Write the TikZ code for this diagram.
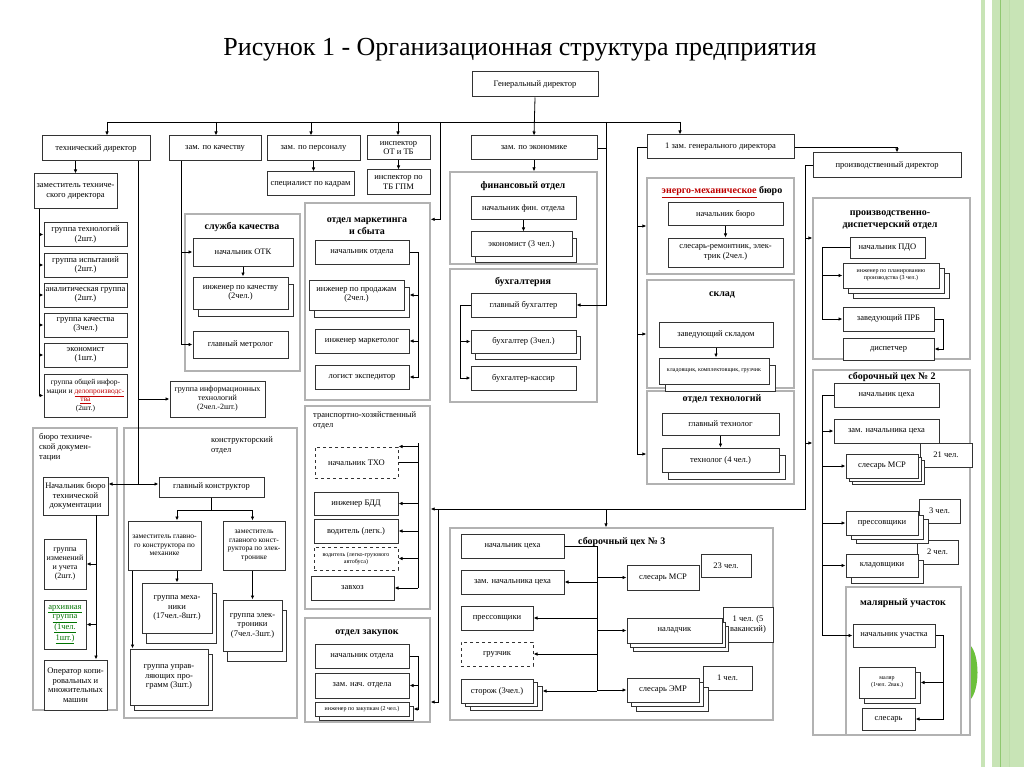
\documentclass[tikz,border=0pt]{standalone}
\usepackage{fontspec}
\setmainfont{Liberation Serif}
\usetikzlibrary{arrows.meta,shadows}

\definecolor{stripe}{HTML}{C8E4B6}
\definecolor{stripedk}{HTML}{8FC870}
\definecolor{disc}{HTML}{6CC03C}
\newcommand{\redul}[1]{\textcolor{red!75!black}{\underline{#1}}}
\newcommand{\grnul}[1]{\textcolor{green!45!black}{\underline{#1}}}

\begin{document}
\begin{tikzpicture}[x=1pt, y=-1pt,
    box/.style={draw=black!80, line width=1pt, fill=white, align=center, inner sep=1pt,
      font=\fontsize{8.5}{9.5}\selectfont},
    dbox/.style={box, dashed},
    stack/.style 2 args={box, copy shadow={shadow xshift=#1pt, shadow yshift=-#2pt}},
    stack2/.style 2 args={box, double copy shadow={shadow xshift=#1pt, shadow yshift=-#2pt}},
    grp/.style={draw=black!30, line width=1.3pt},
    gtitle/.style={font=\bfseries\fontsize{10}{11.5}\selectfont, align=center, inner sep=0pt},
    ltitle/.style={font=\fontsize{8.5}{10}\selectfont, align=left, anchor=north west, inner sep=0pt},
    sz/.style 2 args={minimum width=#1, minimum height=#2},
    arr/.style={-{Latex[length=4pt,width=3.5pt]}, line width=0.8pt},
    ln/.style={line width=0.8pt}]

  \fill[white] (0,0) rectangle (1024,767);
  \useasboundingbox (0,0) rectangle (1024,767);

  % slide border on the right
  \fill[stripe] (981,0) rectangle (985,767);
  \fill[stripe] (992,0) rectangle (1024,767);
  \draw[stripedk, line width=1pt] (1000.5,0) -- (1000.5,767);
  \draw[stripedk!60, line width=0.6pt] (1009,0) -- (1009,767);
  \fill[disc] (970,645) .. controls (980,655) and (980,690) .. (970,700) -- cycle;

  \node[font=\fontsize{26}{30}\selectfont] (title) at (520,50)
    {Рисунок 1 - Организационная структура предприятия};

  % departments
  \node[grp, sz={84}{282}] (btd) at (75,569) {};
  \node[grp, sz={173}{290}] (kod) at (210.5,573) {};
  \node[grp, sz={115}{157}] (skg) at (242.5,292.5) {};
  \node[grp, sz={125}{197}] (mkg) at (367.5,301.5) {};
  \node[grp, sz={125}{203}] (txo) at (367.5,507.5) {};
  \node[grp, sz={125}{104}] (zak) at (367.5,670) {};
  \node[grp, sz={147}{92}] (fin) at (523.5,218) {};
  \node[grp, sz={147}{133}] (bux) at (523.5,335.5) {};
  \node[grp, sz={323}{192}] (c3) at (611.5,624) {};
  \node[grp, sz={147}{96}] (emb) at (720.5,226) {};
  \node[grp, sz={147}{108}] (sk) at (720.5,334) {};
  \node[grp, sz={147}{93}] (ot) at (720.5,437.5) {};
  \node[grp, sz={157}{161}] (pdo) at (891.5,278.5) {};
  \node[grp, sz={157}{365}] (c2) at (891.5,552.5) {};
  \node[grp, sz={115}{148}] (mu) at (903.5,661) {};

  \node[gtitle] (skgT) at (242,227) {служба качества};
  \node[gtitle] (mkgT) at (367,226) {отдел маркетинга\\и сбыта};
  \node[gtitle] (zakT) at (367,633) {отдел закупок};
  \node[gtitle] (finT) at (523,186) {финансовый отдел};
  \node[gtitle] (buxT) at (523,282) {бухгалтерия};
  \node[gtitle, anchor=west] (c3T) at (578,542) {сборочный цех № 3};
  \node[gtitle] (embT) at (722,192) {\redul{энерго-механическое} бюро};
  \node[gtitle] (skT) at (722,295) {склад};
  \node[gtitle] (otT) at (722,399) {отдел технологий};
  \node[gtitle] (pdoT) at (890,220) {производственно-\\диспетчерский отдел};
  \node[gtitle] (c2T) at (892,377) {сборочный цех № 2};
  \node[gtitle] (muT) at (903,603) {малярный участок};
  \node[ltitle] (btdT) at (39,433) {бюро техниче-\\ской докумен-\\тации};
  \node[ltitle] (kodT) at (211,436) {конструкторский\\отдел};
  \node[ltitle] (txoT) at (313,411) {транспортно-хозяйственный\\отдел};

  % management
  \node[box, sz={126}{25}] (gd) at (535,84.5) {Генеральный директор};
  \node[box, sz={108}{25}] (td) at (96,148.5) {технический директор};
  \node[box, sz={92}{25}] (zk) at (215,148.5) {зам. по качеству};
  \node[box, sz={93}{25}] (zp) at (313.5,148.5) {зам. по персоналу};
  \node[box, sz={63}{24}] (iot) at (398.5,148) {инспектор\\ОТ и ТБ};
  \node[box, sz={126}{24}] (ze) at (534,148) {зам. по экономике};
  \node[box, sz={147}{24}] (z1) at (720.5,147) {1 зам. генерального директора};
  \node[box, sz={148}{25}] (pd) at (887,165.5) {производственный директор};
  \node[box, sz={87}{24}] (spk) at (310.5,184) {специалист по кадрам};
  \node[box, sz={63}{25}] (itb) at (398.5,182.5) {инспектор по\\ТБ ГПМ};

  % technical director
  \node[box, sz={83}{35}] (ztd) at (75.5,191.5) {заместитель техниче-\\ского директора};
  \node[box, sz={83}{23}] (gt) at (85.5,234.5) {группа технологий\\(2шт.)};
  \node[box, sz={83}{24}] (gi) at (85.5,265) {группа испытаний\\(2шт.)};
  \node[box, sz={83}{24}] (ag) at (85.5,295) {аналитическая группа\\(2шт.)};
  \node[box, sz={83}{24}] (gk) at (85.5,325) {группа качества\\(3чел.)};
  \node[box, sz={83}{24}] (ek) at (85.5,355) {экономист\\(1шт.)};
  \node[box, sz={83}{43}, font=\fontsize{7.5}{8.5}\selectfont] (goi) at (85.5,395.5)
    {группа общей инфор-\\мации и \redul{делопроизводс-}\\\redul{тва}\\(2шт.)};
  \node[box, sz={95}{36}, font=\fontsize{8}{9}\selectfont] (git) at (217.5,399)
    {группа информационных\\технологий\\(2чел.-2шт.)};

  \node[box, sz={65}{38}] (nbt) at (75.5,496) {Начальник бюро\\технической\\документации};
  \node[box, sz={42}{50}, font=\fontsize{8}{9}\selectfont] (gic) at (65,564)
    {группа\\изменений\\и учета\\(2шт.)};
  \node[box, sz={42}{49}] (ag2) at (65,624.5)
    {\grnul{архивная}\\\grnul{группа}\\\grnul{(1чел.}\\\grnul{1шт.)}};
  \node[box, sz={63}{50}] (op) at (75.5,685) {Оператор копи-\\ровальных и\\множительных\\машин};

  \node[box, sz={105}{20}] (gkon) at (211.5,487) {главный конструктор};
  \node[box, sz={73}{49}, font=\fontsize{7.5}{8.5}\selectfont] (zgm) at (164.5,545.5)
    {заместитель главно-\\го конструктора по\\механике};
  \node[box, sz={62}{49}, font=\fontsize{7.5}{8.5}\selectfont] (zge) at (254,545.5)
    {заместитель\\главного конст-\\руктора по элек-\\тронике};
  \node[stack={4}{10}, sz={70}{50}] (gm) at (177,608) {группа меха-\\ники\\(17чел.-8шт.)};
  \node[stack={4}{10}, sz={59}{51}] (gel) at (252.5,625.5) {группа элек-\\троники\\(7чел.-3шт.)};
  \node[stack={4}{5}, sz={78}{56}] (gup) at (169,677) {группа управ-\\ляющих про-\\грамм (3шт.)};

  % quality, personnel, marketing
  \node[box, sz={100}{28}] (notk) at (243,252) {начальник ОТК};
  \node[stack={5}{7}, sz={95}{32}] (ikach) at (240.5,293) {инженер по качеству\\(2чел.)};
  \node[box, sz={95}{27}] (gmet) at (240.5,344.5) {главный метролог};

  \node[box, sz={94}{24}] (no1) at (362,252) {начальник отдела};
  \node[stack={5}{7}, sz={95}{30}] (ip) at (356.5,295) {инженер по продажам\\(2чел.)};
  \node[box, sz={94}{24}] (im) at (362,341) {инженер маркетолог};
  \node[box, sz={94}{24}] (le) at (362,377) {логист экспедитор};

  \node[dbox, sz={83}{31}] (ntxo) at (356.5,462.5) {начальник ТХО};
  \node[box, sz={84}{23}] (ibdd) at (356,503.5) {инженер БДД};
  \node[box, sz={84}{24}] (vl) at (356,531) {водитель (легк.)};
  \node[dbox, sz={84}{23}, font=\fontsize{6}{6.5}\selectfont] (vg) at (356,558.5)
    {водитель (легко-грузового\\автобуса)};
  \node[box, sz={83}{24}] (zx) at (352.5,588) {завхоз};

  \node[box, sz={94}{24}] (no2) at (362,656) {начальник отдела};
  \node[box, sz={94}{25}] (zno) at (362,685.5) {зам. нач. отдела};
  \node[stack={4}{4}, sz={94}{14}, font=\fontsize{6}{6.5}\selectfont] (izak) at (362,709)
    {инженер по закупкам (2 чел.)};

  % economics
  \node[box, sz={105}{23}] (nfo) at (523.5,208.5) {начальник фин. отдела};
  \node[stack={4}{6}, sz={101}{24}] (eko) at (521.5,244) {экономист (3 чел.)};
  \node[box, sz={105}{24}] (gb) at (523.5,305) {главный бухгалтер};
  \node[stack={4}{6}, sz={105}{23}] (bx) at (523.5,341.5) {бухгалтер (3чел.)};
  \node[box, sz={105}{24}] (bk) at (523.5,378) {бухгалтер-кассир};

  % assembly shop 3
  \node[box, sz={103}{24}] (nc3) at (512.5,546) {начальник цеха};
  \node[box, sz={103}{24}] (znc3) at (512.5,582) {зам. начальника цеха};
  \node[box, sz={72}{24}] (prs3) at (497,618) {прессовщики};
  \node[dbox, sz={72}{24}] (gr) at (497,654) {грузчик};
  \node[stack2={4.5}{3.5}, sz={72}{24}] (st) at (497,691) {сторож (3чел.)};
  \node[box, sz={50}{23}] (n23) at (726,565.5) {23 чел.};
  \node[box, sz={50}{35}] (n1a) at (748,624.5) {1 чел. (5\\вакансий)};
  \node[box, sz={49}{24}] (n1b) at (727.5,678) {1 чел.};
  \node[box, sz={72}{25}] (smsr3) at (663,577.5) {слесарь МСР};
  \node[stack2={3}{4}, sz={95}{25}] (nal) at (674.5,630.5) {наладчик};
  \node[stack2={4.5}{4.5}, sz={72}{24}] (sem) at (663,690) {слесарь ЭМР};

  % first deputy
  \node[box, sz={115}{23}] (nb) at (725.5,214.5) {начальник бюро};
  \node[box, sz={115}{29}] (sre) at (725.5,252.5) {слесарь-ремонтник, элек-\\трик (2чел.)};
  \node[box, sz={114}{25}] (zsk) at (716,334.5) {заведующий складом};
  \node[stack={6}{7}, sz={110}{26}, font=\fontsize{6}{6.5}\selectfont] (kl) at (714,371)
    {кладовщик, комплектовщик, грузчик};
  \node[box, sz={117}{22}] (gt2) at (720.5,424) {главный технолог};
  \node[stack={6}{7}, sz={117}{24}] (tech) at (720.5,460) {технолог (4 чел.)};

  % production director
  \node[box, sz={75}{21}] (npdo) at (887.5,247.5) {начальник ПДО};
  \node[stack2={5}{5}, sz={96}{25}, font=\fontsize{6}{6.8}\selectfont] (ipp) at (891,275.5)
    {инженер по планированию\\производства (3 чел.)};
  \node[box, sz={91}{24}] (zprb) at (888.5,319) {заведующий ПРБ};
  \node[box, sz={91}{22}] (dis) at (888.5,349) {диспетчер};

  \node[box, sz={105}{24}] (nc2) at (886.5,395) {начальник цеха};
  \node[box, sz={105}{24}] (znc2) at (886.5,431) {зам. начальника цеха};
  \node[box, sz={52}{24}] (n21) at (946,455) {21 чел.};
  \node[box, sz={41}{24}] (n3) at (939.5,511) {3 чел.};
  \node[box, sz={41}{24}] (n2) at (937.5,552) {2 чел.};
  \node[stack2={3}{3}, sz={72}{24}] (smsr2) at (882,466) {слесарь МСР};
  \node[stack2={5}{4}, sz={72}{24}] (pres) at (882,523) {прессовщики};
  \node[stack={5}{6}, sz={72}{23}] (kld) at (882,565.5) {кладовщики};

  \node[box, sz={82}{23}] (nu) at (894,635.5) {начальник участка};
  \node[stack={5}{5}, sz={56}{31}, font=\fontsize{6}{7}\selectfont] (mal) at (887,682.5)
    {маляр\\(1чел. 2вак.)};
  \node[box, sz={53}{22}] (sl) at (888.5,719) {слесарь};

  % top bus
  \coordinate (b1) at (107,122);
  \coordinate (b2) at (216,122);
  \coordinate (b3) at (311,122);
  \coordinate (b4) at (398,122);
  \coordinate (b5) at (440,122);
  \coordinate (b6) at (606,122);
  \coordinate (b7) at (680,122);
  \draw[ln] (b1) -- (b7);
  \draw[arr] (gd.south) -- (ze.north);
  \draw[arr] (b1) -- (b1 |- td.north);
  \draw[arr] (b2) -- (b2 |- zk.north);
  \draw[arr] (b3) -- (b3 |- zp.north);
  \draw[arr] (b4) -- (b4 |- iot.north);
  \draw[arr] (b7) -- (b7 |- z1.north);
  \draw[arr] (b5) |- ([yshift=-17pt]mkg.north east);
  \draw[arr] (b6) |- (gb.east);
  \draw[ln] (ze.east) -- (ze.east -| b6);

  % technical director
  \draw[arr] (ztd.north |- td.south) -- (ztd.north);
  \coordinate (g0) at (39,209);
  \draw[ln] (g0) -- (g0 |- goi.west);
  \foreach \nd in {gt,gi,ag,gk,ek,goi}
    \draw[arr] (g0 |- \nd.west) -- (\nd.west);
  \coordinate (t0) at (138,161);
  \coordinate (j1) at (138,484);
  \draw[ln] (t0) -- (j1);
  \draw[arr] (t0 |- git.west) -- (git.west);
  \draw[arr] (j1) -- (j1 -| nbt.east);
  \draw[arr] (j1) -- (j1 -| gkon.west);
  \coordinate (d0) at (96,515);
  \draw[arr] (d0) -- (d0 |- op.north);
  \draw[arr] (d0 |- gic.east) -- (gic.east);
  \draw[arr] (d0 |- ag2.east) -- (ag2.east);
  \draw[arr] (gkon.south) -- ++(0,13) -| (gm.north |- zgm.north);
  \draw[arr] (gkon.south) -- ++(0,13) -| (gel.north |- zge.north);
  \draw[arr] (gm.north |- zgm.south) -- (gm.north);
  \draw[arr] (gel.north |- zge.south) -- (gel.north);
  \draw[arr] ([xshift=5pt]zgm.south west) -- ([xshift=5pt]zgm.south west |- gup.north);

  % quality, personnel
  \coordinate (q0) at (181,161);
  \draw[arr] (q0) |- (notk.west);
  \draw[arr] (q0) |- (gmet.west);
  \draw[arr] (notk.south) -- (notk.south |- ikach.north);
  \draw[arr] (zp.south) -- (zp.south |- spk.north);
  \draw[arr] (iot.south) -- (itb.north);

  % marketing, transport, purchasing
  \draw[arr] (no1.east) -- ++(9,0) |- (le.east);
  \draw[arr] (no1.east) ++(9,0) |- (im.east);
  \draw[arr] (no1.east) ++(9,0) |- ([xshift=5pt]ip.east);
  \coordinate (x0) at (418,443);
  \draw[ln] (x0) -- (x0 |- zx.east);
  \draw[arr] (x0 |- ntxo.north east) -- (ntxo.north east);
  \draw[ln] (ntxo.east) -- (ntxo.east -| x0);
  \foreach \nd in {ibdd,vl,vg,zx}
    \draw[arr] (x0 |- \nd.east) -- (\nd.east);
  \draw[arr] (no2.east) -- ++(9,0) |- ([xshift=4pt]izak.east);
  \draw[arr] (no2.east) ++(9,0) |- (zno.east);

  % production line
  \coordinate (j2) at (438,509);
  \coordinate (j3) at (805,509);
  \coordinate (j4) at (606,509);
  \coordinate (k1) at (805,238);
  \coordinate (k2) at (805,443);
  \draw[ln] (pd.west) -| (j3) -- (j2);
  \draw[arr] (j2) -- (j2 -| txo.east);
  \draw[arr] (j2) |- ([yshift=-32pt]zak.east);
  \draw[arr] (j4) -- (j4 |- c3.north);
  \draw[arr] (k1) -- (k1 -| pdo.west);
  \draw[arr] (k2) -- (k2 -| c2.west);

  % economics
  \draw[arr] (ze.south) -- (ze.south |- fin.north);
  \draw[arr] (nfo.south) -- (nfo.south |- eko.north);
  \draw[arr] (gb.west) -- ++(-10,0) |- (bk.west);
  \draw[arr] (gb.west) ++(-10,0) |- (bx.west);

  % shop 3
  \coordinate (c3b) at (597,546);
  \draw[ln] (nc3.east) -- (c3b) -- (c3b |- sem.west);
  \foreach \nd in {znc3,prs3,gr}
    \draw[arr] (c3b |- \nd.east) -- (\nd.east);
  \draw[arr] (c3b |- st.east) -- ([xshift=9pt]st.east);
  \foreach \nd in {smsr3,nal,sem}
    \draw[arr] (c3b |- \nd.west) -- (\nd.west);

  % first deputy
  \coordinate (j5) at (637,454);
  \draw[ln] (z1.west) -| (j5);
  \draw[arr] (j5 |- emb.west) -- (emb.west);
  \draw[arr] (j5 |- sk.west) -- (sk.west);
  \draw[arr] (j5) -- (j5 -| ot.west);
  \draw[arr] (nb.south) -- (sre.north);
  \draw[arr] (zsk.south) -- (zsk.south |- kl.north);
  \draw[arr] (gt2.south) -- (gt2.south |- tech.north);
  \draw[arr] (z1.east) -| ([xshift=10pt]pd.north);

  % production director
  \draw[arr] (npdo.west) -- ++(-27,0) |- (zprb.west);
  \draw[arr] (npdo.west) ++(-27,0) |- (ipp.west);
  \draw[arr] (zprb.east) -- ++(9,0) |- (dis.east);
  \draw[arr] (nc2.west) -- ++(-11,0) |- (nu.west);
  \foreach \nd in {znc2,smsr2,pres,kld}
    \draw[arr] (nc2.west) ++(-11,0) |- (\nd.west);
  \draw[arr] (nu.east) -- ++(8,0) |- (sl.east);
  \draw[arr] (nu.east) ++(8,0) |- ([xshift=5pt]mal.east);
\end{tikzpicture}
\end{document}
